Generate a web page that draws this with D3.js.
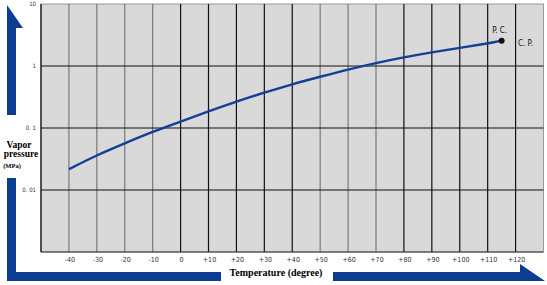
<!DOCTYPE html>
<html>
<head>
<meta charset="utf-8">
<script src="https://cdn.jsdelivr.net/npm/d3@7"></script>
<style>
  body { margin: 0; background: #fff; }
  svg { display: block; }
</style>
</head>
<body>
<script>
// data
var temps = [-40, -30, -20, -10, 0, 10, 20, 30, 40, 50, 60, 70, 80, 90, 100, 110, 115];
var pressures = [0.0216, 0.0365, 0.0565, 0.087, 0.127, 0.185, 0.268, 0.372, 0.51, 0.67, 0.88, 1.12, 1.38, 1.66, 1.97, 2.3, 2.56];
var xTicks = [-40, -30, -20, -10, 0, 10, 20, 30, 40, 50, 60, 70, 80, 90, 100, 110, 120];
var greyTicks = [-40, -30, -20, -10, 50, 60, 70];
var yTicks = [10, 1, 0.1, 0.01];
var yTickLabels = ["10", "1", "0. 1", "0. 01"];
var critical = { t: 115, p: 2.56 };

var w = 547, h = 285;
var blue = "#0c3d92";

var svg = d3.select("body").append("svg")
    .attr("width", w)
    .attr("height", h);

// scales
var xScale = d3.scaleLinear().domain([-50, 130]).range([41, 543.5]);
var yScale = d3.scaleLog().domain([0.001, 10]).range([252, 4]);

// plot background
svg.append("rect")
    .attr("x", xScale(-50))
    .attr("y", yScale(10))
    .attr("width", xScale(130) - xScale(-50))
    .attr("height", yScale(0.001) - yScale(10))
    .attr("fill", "#d9d9d9")
    .attr("stroke", "#9a9a9a")
    .attr("stroke-width", 1);

// vertical grid lines
svg.selectAll(".vgrid")
    .data(xTicks)
    .enter().append("line")
    .attr("class", "vgrid")
    .attr("x1", function (d) { return xScale(d); })
    .attr("x2", function (d) { return xScale(d); })
    .attr("y1", yScale(10))
    .attr("y2", yScale(0.001))
    .attr("stroke", function (d) { return greyTicks.indexOf(d) >= 0 ? "#7a7a7a" : "#111"; })
    .attr("stroke-width", 1.2);

// horizontal grid lines
svg.selectAll(".hgrid")
    .data([1, 0.1, 0.01])
    .enter().append("line")
    .attr("class", "hgrid")
    .attr("x1", xScale(-50))
    .attr("x2", xScale(130))
    .attr("y1", function (d) { return yScale(d); })
    .attr("y2", function (d) { return yScale(d); })
    .attr("stroke", "#111")
    .attr("stroke-width", 1.2);

// left and bottom borders
svg.append("line")
    .attr("x1", xScale(-50)).attr("x2", xScale(-50))
    .attr("y1", yScale(10)).attr("y2", yScale(0.001))
    .attr("stroke", "#111").attr("stroke-width", 1.3);
svg.append("line")
    .attr("x1", xScale(-50)).attr("x2", xScale(130))
    .attr("y1", yScale(0.001)).attr("y2", yScale(0.001))
    .attr("stroke", "#333").attr("stroke-width", 1.2);

// x tick labels
svg.selectAll(".xlab")
    .data(xTicks)
    .enter().append("text")
    .attr("class", "xlab")
    .attr("x", function (d) { return xScale(d) + 1; })
    .attr("y", 262)
    .attr("text-anchor", "middle")
    .style("font-family", "'DejaVu Sans Condensed', 'Liberation Sans', sans-serif")
    .style("font-size", "7px")
    .attr("fill", "#333")
    .text(function (d) { return d > 0 ? "+" + d : String(d); });

// y tick labels
svg.selectAll(".ylab")
    .data(yTicks)
    .enter().append("text")
    .attr("class", "ylab")
    .attr("x", 36)
    .attr("y", function (d) { return yScale(d); })
    .attr("dy", "0.3em")
    .attr("text-anchor", "end")
    .style("font-family", "'DejaVu Sans Condensed', 'Liberation Sans', sans-serif")
    .style("font-size", "6px")
    .attr("fill", "#333")
    .text(function (d, i) { return yTickLabels[i]; });

// vapor pressure curve
var line = d3.line()
    .x(function (d) { return xScale(d[0]); })
    .y(function (d) { return yScale(d[1]); })
    .curve(d3.curveBasis);

svg.append("path")
    .datum(temps.map(function (t, i) { return [t, pressures[i]]; }))
    .attr("d", line)
    .attr("fill", "none")
    .attr("stroke", "#123f98")
    .attr("stroke-width", 2.4);

// critical point
svg.append("circle")
    .attr("cx", xScale(critical.t))
    .attr("cy", yScale(critical.p))
    .attr("r", 3)
    .attr("fill", "#111");

svg.append("text")
    .attr("x", xScale(critical.t) - 2)
    .attr("y", yScale(critical.p) - 8)
    .attr("text-anchor", "middle")
    .style("font-family", "'DejaVu Sans Condensed', 'Liberation Sans', sans-serif")
    .style("font-size", "8px")
    .attr("fill", "#111")
    .text("P. C.");

svg.append("text")
    .attr("x", 518)
    .attr("y", yScale(critical.p) + 5)
    .style("font-family", "'DejaVu Sans Condensed', 'Liberation Sans', sans-serif")
    .style("font-size", "8px")
    .attr("fill", "#111")
    .text("C. P.");

// axis titles
var serif = "'Liberation Serif', 'Times New Roman', serif";
svg.append("text")
    .attr("x", 19).attr("y", 148)
    .attr("text-anchor", "middle")
    .style("font-family", serif).style("font-size", "9.5px").style("font-weight", "bold")
    .text("Vapor");
svg.append("text")
    .attr("x", 21).attr("y", 157)
    .attr("text-anchor", "middle")
    .style("font-family", serif).style("font-size", "9.5px").style("font-weight", "bold")
    .text("pressure");
svg.append("text")
    .attr("x", 12).attr("y", 168)
    .attr("text-anchor", "middle")
    .style("font-family", serif).style("font-size", "6.5px").style("font-weight", "bold")
    .text("(MPa)");

svg.append("text")
    .attr("x", 276).attr("y", 276)
    .attr("text-anchor", "middle")
    .style("font-family", serif).style("font-size", "10px").style("font-weight", "bold")
    .text("Temperature (degree)");

// blue arrows
svg.append("polygon")
    .attr("points", "7,5 23,28 16,28 16,115 7,115")
    .attr("fill", blue);
svg.append("polygon")
    .attr("points", "7,178 16,178 16,272 221,272 221,281 7,281")
    .attr("fill", blue);
svg.append("polygon")
    .attr("points", "333,272 520,272 520,264 545,281 333,281")
    .attr("fill", blue);
</script>
</body>
</html>
